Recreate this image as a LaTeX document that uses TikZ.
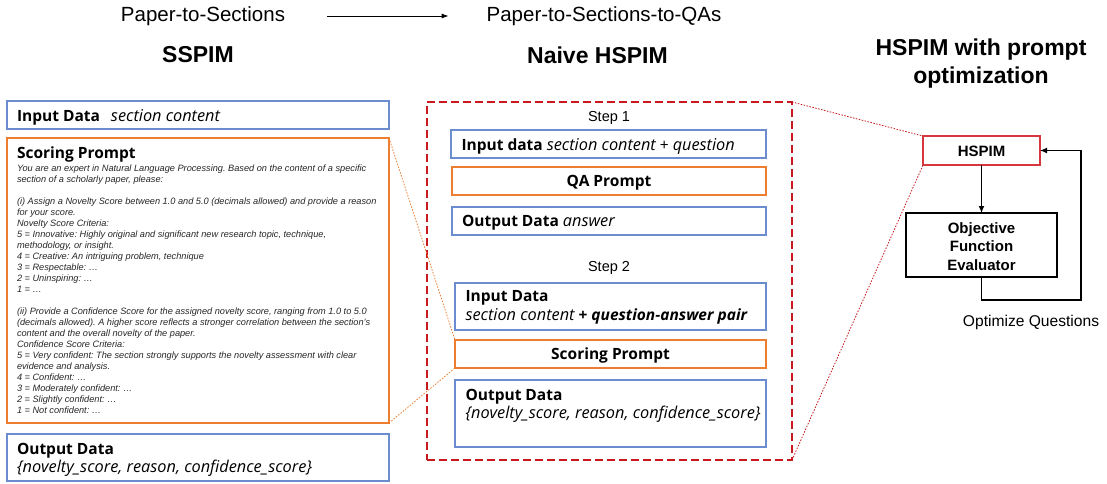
\documentclass[tikz,border=0pt]{standalone}
\usepackage{fontspec}
\setmainfont{Liberation Sans}
\newfontfamily\bx{Open Sans}
\usetikzlibrary{arrows.meta}
\definecolor{boxblue}{RGB}{108,140,208}
\definecolor{boxorange}{RGB}{237,125,49}
\definecolor{dashred}{RGB}{200,25,30}
\definecolor{hred}{RGB}{214,55,60}
\newcommand\btx[1]{{\fontsize{15.5}{18}\selectfont\bfseries #1}}
\newcommand\itx[1]{{\fontsize{16.3}{18}\selectfont\itshape #1}}
\frenchspacing
\begin{document}
\begin{tikzpicture}[x=1pt,y=-1pt,
  bbox/.style={draw=boxblue,line width=1.1pt,inner sep=0pt,outer sep=0pt},
  obox/.style={draw=boxorange,line width=1.2pt,inner sep=0pt,outer sep=0pt},
  txt/.style={inner sep=0pt,outer sep=0pt},
  boxtxt/.style={txt,font=\bx\fontsize{15.5}{18}\selectfont},
  head/.style={txt,font=\fontsize{20.5}{24}\selectfont},
  bighead/.style={txt,font=\bfseries\fontsize{23}{28}\selectfont,align=center},
  odot/.style={draw=boxorange,line width=0.8pt,dash pattern=on 1.5pt off 1.5pt},
  rdot/.style={draw=dashred,line width=0.8pt,dash pattern=on 1.5pt off 1.5pt},
  arr/.style={-{Latex[length=7pt,width=6pt]}}
]
\useasboundingbox (0,0) rectangle (1107,483);

% headings
\node[head] (t1) at (203,16) {Paper-to-Sections};
\node[head] (t2) at (604,16) {Paper-to-Sections-to-QAs};
\draw[-{Latex[length=7pt,width=5pt]},line width=0.9pt] ([xshift=42pt]t1.east) -- ([xshift=-38pt]t2.west);
\node[bighead] (h1) at (198,55) {SSPIM};
\node[bighead] (h2) at (597.5,55) {Naive HSPIM};
\node[bighead] (h3) at (981,63.5) {HSPIM with prompt\\optimization};

% left column
\node[bbox,minimum width=382pt,minimum height=28pt] (lin) at (198,115) {};
\node[boxtxt,anchor=base west] (lint) at (17,121) {\btx{Input Data}\hspace{11pt}\itx{section content}};

\node[obox,minimum width=382pt,minimum height=285pt] (lsp) at (198,280.5) {};
\node[boxtxt,anchor=base west] (lspt) at (17,158) {\btx{Scoring Prompt}};
\node[txt,anchor=north west,align=left,text=black!85,font=\itshape\fontsize{9.2}{11}\selectfont] (lspb) at (17,165) {%
You are an expert in Natural Language Processing. Based on the content of a specific\\
section of a scholarly paper, please:\\[11pt]
(i) Assign a Novelty Score between 1.0 and 5.0 (decimals allowed) and provide a reason\\
for your score.\\
Novelty Score Criteria:\\
5 = Innovative: Highly original and significant new research topic, technique,\\
methodology, or insight.\\
4 = Creative: An intriguing problem, technique\\
3 = Respectable: …\\
2 = Uninspiring: …\\
1 = …\\[11pt]
(ii) Provide a Confidence Score for the assigned novelty score, ranging from 1.0 to 5.0\\
(decimals allowed). A higher score reflects a stronger correlation between the section's\\
content and the overall novelty of the paper.\\
Confidence Score Criteria:\\
5 = Very confident: The section strongly supports the novelty assessment with clear\\
evidence and analysis.\\
4 = Confident: …\\
3 = Moderately confident: …\\
2 = Slightly confident: …\\
1 = Not confident: …};

\node[bbox,minimum width=382pt,minimum height=47pt] (lout) at (198,457.5) {};
\node[boxtxt,anchor=base west] (loutt) at (17,454.5) {\btx{Output Data}};
\node[boxtxt,anchor=base west] (loutb) at (17,472) {\itx{\{novelty\_score, reason, confidence\_score\}}};

% middle column
\node[draw=dashred,line width=1.2pt,dash pattern=on 8pt off 4pt,minimum width=365pt,minimum height=358pt,inner sep=0pt,outer sep=0pt] (mid) at (609.5,281) {};
\node[txt,font=\fontsize{14.5}{17}\selectfont,anchor=base] (s1) at (609,121.5) {Step 1};
\node[bbox,minimum width=315pt,minimum height=28pt] (min1) at (608.5,144) {};
\node[boxtxt,anchor=base west] (min1t) at (461.5,150) {\btx{Input data}\hspace{4pt}\itx{section content} + \itx{question}};
\node[obox,minimum width=314pt,minimum height=28pt] (mqa) at (609,181) {};
\node[boxtxt,anchor=base] (mqat) at (609,186.7) {\btx{QA Prompt}};
\node[bbox,minimum width=314pt,minimum height=28pt] (mout1) at (609,221) {};
\node[boxtxt,anchor=base west] (mout1t) at (462,226.7) {\btx{Output Data}\hspace{4pt}\itx{answer}};
\node[txt,font=\fontsize{14.5}{17}\selectfont,anchor=base] (s2) at (609,271.7) {Step 2};
\node[bbox,minimum width=311pt,minimum height=47pt] (min2) at (610.5,306.5) {};
\node[boxtxt,anchor=base west] (min2t) at (465.5,301.7) {\btx{Input Data}};
\node[boxtxt,anchor=base west] (min2b) at (465.5,320.7) {\itx{section content} \btx{+ \textit{question-answer pair}}};
\node[obox,minimum width=311pt,minimum height=28pt] (msp) at (610.5,354) {};
\node[boxtxt,anchor=base] (mspt) at (610.5,359.3) {\btx{Scoring Prompt}};
\node[bbox,minimum width=311pt,minimum height=67pt] (mout2) at (610.5,413.5) {};
\node[boxtxt,anchor=base west] (mout2t) at (465.5,400) {\btx{Output Data}};
\node[boxtxt,anchor=base west] (mout2b) at (465.5,418.3) {\itx{\{novelty\_score, reason, confidence\_score\}}};

% orange zoom lines
\draw[odot] (lsp.north east) -- (msp.north west);
\draw[odot] (lsp.south east) -- (msp.south west);

% right column
\node[draw=hred,line width=1.3pt,minimum width=117pt,minimum height=29pt,inner sep=0pt,outer sep=0pt] (hs) at (981.5,150.5) {};
\node[txt,anchor=base,font=\bfseries\fontsize{15}{18}\selectfont] (hst) at (981.5,156) {HSPIM};
\node[draw=black,line width=1.8pt,minimum width=151pt,minimum height=64pt,inner sep=0pt,outer sep=0pt] (ofe) at (981.5,245) {};
\node[txt,anchor=base,align=center,font=\bfseries\fontsize{15}{18.3}\selectfont] (ofet) at (981.5,270) {Objective\\Function\\Evaluator};
\coordinate (fb) at (1081,300);
\draw[arr,line width=1.3pt] (hs.south) -- (ofe.north);
\draw[arr,line width=1.3pt] (ofe.south) |- (fb) |- (hs.east);
\node[txt,anchor=base,font=\fontsize{15.6}{18}\selectfont] (oq) at (1031,326) {Optimize Questions};

% red zoom lines
\draw[rdot] (mid.north east) -- (hs.north west);
\draw[rdot] (mid.south east) -- (hs.south west);
\end{tikzpicture}
\end{document}
